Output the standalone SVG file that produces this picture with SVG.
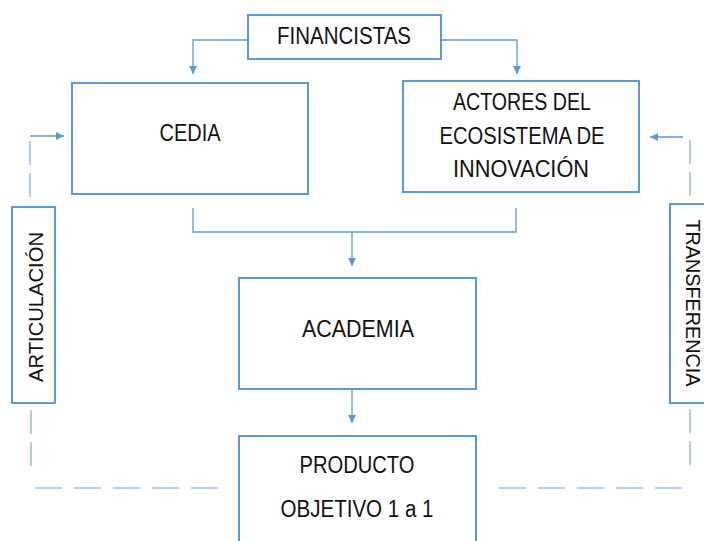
<svg xmlns="http://www.w3.org/2000/svg" width="704" height="541" viewBox="0 0 704 541">
<defs>
<style>
.box{fill:#fff;stroke:#5B9BD5;stroke-width:2}
.t{font-family:"Liberation Sans",Arial,sans-serif;font-size:23px;fill:#111;text-anchor:middle}
.v{font-family:"Liberation Sans",Arial,sans-serif;font-size:20px;fill:#111;text-anchor:middle}
.c{fill:none;stroke:#5B9BD5;stroke-width:1.3}
.dh{fill:none;stroke:#9DC3E6;stroke-width:1.6;stroke-dasharray:27 12}
.dv{fill:none;stroke:#9DC3E6;stroke-width:1.6;stroke-dasharray:24 8}
</style>
<marker id="ah" markerUnits="userSpaceOnUse" markerWidth="9" markerHeight="9" refX="8" refY="4" orient="auto">
<path d="M0,0 L8,4 L0,8 z" fill="#5B9BD5"/>
</marker>
</defs>
<rect width="704" height="541" fill="#fff"/>
<g id="connectors">
<path class="c" d="M248,40 H193 V74" marker-end="url(#ah)"/>
<path class="c" d="M441,40 H517 V74" marker-end="url(#ah)"/>
<path class="c" d="M193,208 V232 H516 V208"/>
<path class="c" d="M352,232 V266" marker-end="url(#ah)"/>
<path class="c" d="M352,388 V423" marker-end="url(#ah)"/>
<path class="dv" d="M30,141 V199"/>
<path class="c" d="M30,136 H64" marker-end="url(#ah)"/>
<path class="dv" d="M31,410 V467"/>
<path class="dh" d="M35,488 H222"/>
<path class="dv" d="M690,140 V198"/>
<path class="c" d="M683,137 H650" marker-end="url(#ah)"/>
<path class="dv" d="M690,409 V467"/>
<path class="dh" d="M682,488 H492"/>
</g>
<g id="financistas">
<rect class="box" x="248" y="15" width="193" height="44"/>
<text class="t" x="344" y="44" textLength="134" lengthAdjust="spacingAndGlyphs">FINANCISTAS</text>
</g>
<g id="cedia">
<rect class="box" x="72" y="83" width="236" height="111"/>
<text class="t" x="190" y="141" textLength="61" lengthAdjust="spacingAndGlyphs">CEDIA</text>
</g>
<g id="actores">
<rect class="box" x="403" y="81" width="236" height="111"/>
<text class="t" x="522" y="110" textLength="138" lengthAdjust="spacingAndGlyphs">ACTORES DEL</text>
<text class="t" x="522" y="144" textLength="165" lengthAdjust="spacingAndGlyphs">ECOSISTEMA DE</text>
<text class="t" x="521" y="177" textLength="136" lengthAdjust="spacingAndGlyphs">INNOVACIÓN</text>
</g>
<g id="academia">
<rect class="box" x="239" y="278" width="237" height="111"/>
<text class="t" x="358" y="337" textLength="112" lengthAdjust="spacingAndGlyphs">ACADEMIA</text>
</g>
<g id="producto">
<rect class="box" x="239" y="436" width="237" height="115"/>
<text class="t" x="357" y="473" textLength="115" lengthAdjust="spacingAndGlyphs">PRODUCTO</text>
<text class="t" x="357" y="517" textLength="153" lengthAdjust="spacingAndGlyphs">OBJETIVO 1 a 1</text>
</g>
<g id="articulacion">
<rect class="box" x="12" y="207" width="43" height="196"/>
<text class="v" transform="translate(43,307) rotate(-90)" textLength="150" lengthAdjust="spacingAndGlyphs">ARTICULACIÓN</text>
</g>
<g id="transferencia">
<rect class="box" x="670" y="204" width="40" height="199"/>
<text class="v" transform="translate(686,303) rotate(90)" textLength="167" lengthAdjust="spacingAndGlyphs">TRANSFERENCIA</text>
</g>
</svg>
